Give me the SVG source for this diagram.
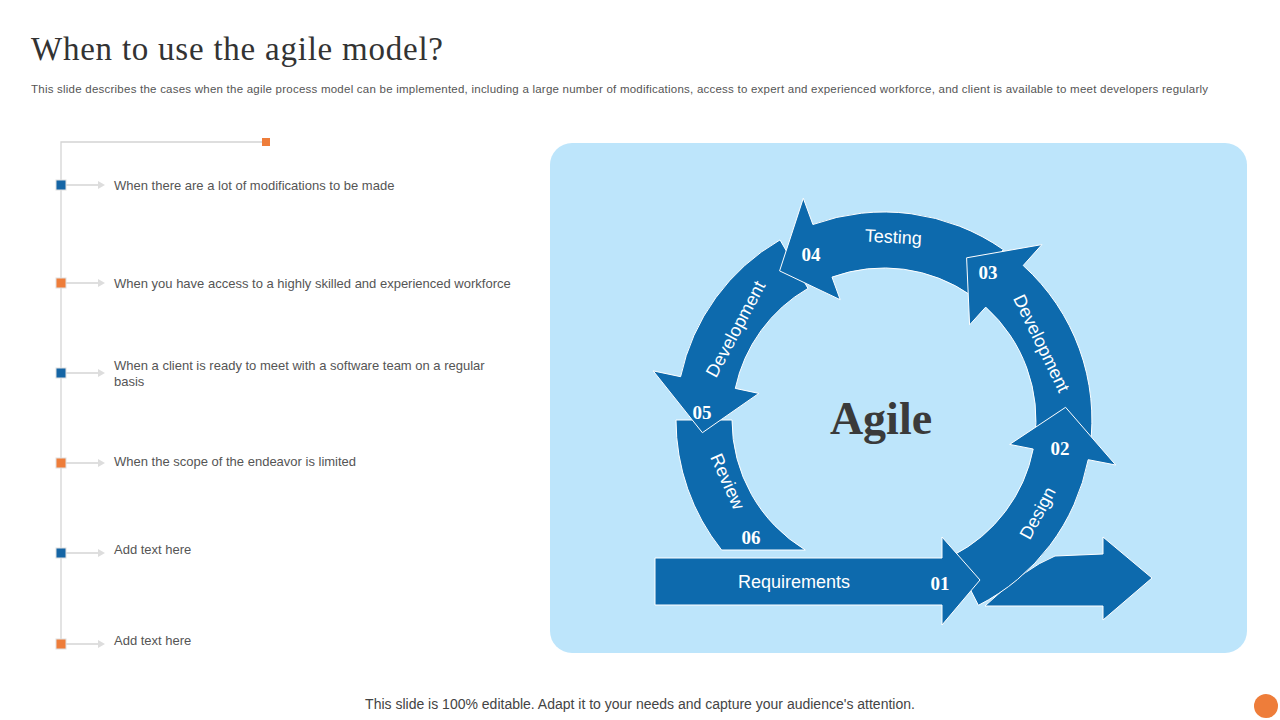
<svg xmlns="http://www.w3.org/2000/svg" width="1280" height="720" viewBox="0 0 1280 720">
<style>
.t{font-family:"Liberation Sans",Arial,sans-serif;font-size:13px;fill:#555}
.band{fill:#0d6aad;stroke:#fff;stroke-width:1}
.lbl{font-family:"Liberation Sans",Arial,sans-serif;font-size:18px;fill:#fff;text-anchor:middle}
.num{font-family:"Liberation Serif",serif;font-size:19px;font-weight:bold;fill:#fff;text-anchor:middle}
.gl{stroke:#d4d4d4;stroke-width:1.3;fill:none}
</style>
<rect width="1280" height="720" fill="#fff"/>
<text x="31" y="60" font-family="Liberation Serif,serif" font-size="33" fill="#333" textLength="412">When to use the agile model?</text>
<text x="31" y="93" font-family="Liberation Sans,Arial,sans-serif" font-size="11.5" fill="#555" textLength="1177">This slide describes the cases when the agile process model can be implemented, including a large number of modifications, access to expert and experienced workforce, and client is available to meet developers regularly</text>
<g id="timeline">
<path class="gl" d="M61 645 V142 H266"/>
<rect x="262" y="138" width="8" height="8" fill="#ee7d3a"/>
</g>
<g id="items">
<g id="i1"><path class="gl" d="M66 185 H100"/><path d="M98 181 L105 185 L98 189Z" fill="#ddd"/><rect x="56" y="180" width="10" height="10" fill="#1565a5" stroke="#e0e0e0"/><text class="t" x="114" y="190">When there are a lot of modifications to be made</text></g>
<g id="i2"><path class="gl" d="M66 283 H100"/><path d="M98 279 L105 283 L98 287Z" fill="#ddd"/><rect x="56" y="278" width="10" height="10" fill="#ee7d3a" stroke="#e0e0e0"/><text class="t" x="114" y="288">When you have  access to a highly skilled and experienced workforce</text></g>
<g id="i3"><path class="gl" d="M66 373 H100"/><path d="M98 369 L105 373 L98 377Z" fill="#ddd"/><rect x="56" y="368" width="10" height="10" fill="#1565a5" stroke="#e0e0e0"/><text class="t" x="114" y="370">When a client is ready to meet with a software team on a regular</text><text class="t" x="114" y="386">basis</text></g>
<g id="i4"><path class="gl" d="M66 463 H100"/><path d="M98 459 L105 463 L98 467Z" fill="#ddd"/><rect x="56" y="458" width="10" height="10" fill="#ee7d3a" stroke="#e0e0e0"/><text class="t" x="114" y="466">When the scope of the endeavor  is limited</text></g>
<g id="i5"><path class="gl" d="M66 553 H100"/><path d="M98 549 L105 553 L98 557Z" fill="#ddd"/><rect x="56" y="548" width="10" height="10" fill="#1565a5" stroke="#e0e0e0"/><text class="t" x="114" y="554">Add text here</text></g>
<g id="i6"><path class="gl" d="M66 644 H100"/><path d="M98 640 L105 644 L98 648Z" fill="#ddd"/><rect x="56" y="639" width="10" height="10" fill="#ee7d3a" stroke="#e0e0e0"/><text class="t" x="114" y="645">Add text here</text></g>
</g>
<rect x="550" y="143" width="697" height="510" rx="22" fill="#bde5fb"/>
<g id="cycle">
<path id="outArrow" class="band" d="M985 606 Q1025 568 1055 556 L1103 554 L1103 537 L1152 578 L1103 620 L1103 606 Z"/>
<g id="review"><path class="band" d="M676 420 A208 208 0 0 0 721.6 550 L805.3 550 A152 152 0 0 1 732 420 Z"/>
<text class="lbl" transform="translate(722,484) rotate(66)">Review</text><text class="num" x="751" y="544">06</text></g>
<g id="devLeft"><path class="band" d="M780 239.9 A208 208 0 0 0 680.6 376.7 L653.2 370.9 L702.4 432.7 L758.8 393.4 L735.3 388.4 A152 152 0 0 1 808 288.4 Z"/>
<text class="lbl" transform="translate(741,332) rotate(-62)">Development</text><text class="num" x="702" y="419">05</text></g>
<g id="testing"><path class="band" d="M1003.3 249.6 A208 208 0 0 0 812.9 224.5 L803.3 198.2 L779.6 270.9 L840.2 299.7 L832 277.1 A152 152 0 0 1 971.2 295.5 Z"/>
<text class="lbl" transform="translate(893,243) rotate(3)">Testing</text><text class="num" x="811" y="261">04</text></g>
<g id="devRight"><path class="band" d="M1089.9 448.9 A208 208 0 0 0 1023.2 265.5 L1041.9 244.6 L966.6 257.8 L969.6 324.9 L985.7 307.1 A152 152 0 0 1 1034.5 441.1 Z"/>
<text class="lbl" transform="translate(1036,346) rotate(64)">Development</text><text class="num" x="988" y="279">03</text></g>
<g id="design"><path class="band" d="M978.4 605.3 A208 208 0 0 0 1088.2 459.7 L1115.7 465 L1065.6 407.3 L1009.7 444.4 L1033.2 449 A152 152 0 0 1 953 555.4 Z"/>
<text class="lbl" transform="translate(1043,516) rotate(-62)">Design</text><text class="num" x="1060" y="455">02</text></g>
<g id="requirements"><path class="band" d="M655 558 H942 V537 L980 580 L942 625 V605 H655 Z"/>
<text class="lbl" x="794" y="588">Requirements</text><text class="num" x="940" y="590">01</text></g>
<text x="881" y="434" text-anchor="middle" font-family="Liberation Serif,serif" font-size="46" font-weight="bold" fill="#3a3a3a">Agile</text>
</g>
<text x="640" y="709" text-anchor="middle" font-family="Liberation Sans,Arial,sans-serif" font-size="14" fill="#444">This slide is 100% editable. Adapt it to your needs and capture your audience's attention.</text>
<circle cx="1266" cy="706" r="12" fill="#ee7d3a"/>
</svg>
